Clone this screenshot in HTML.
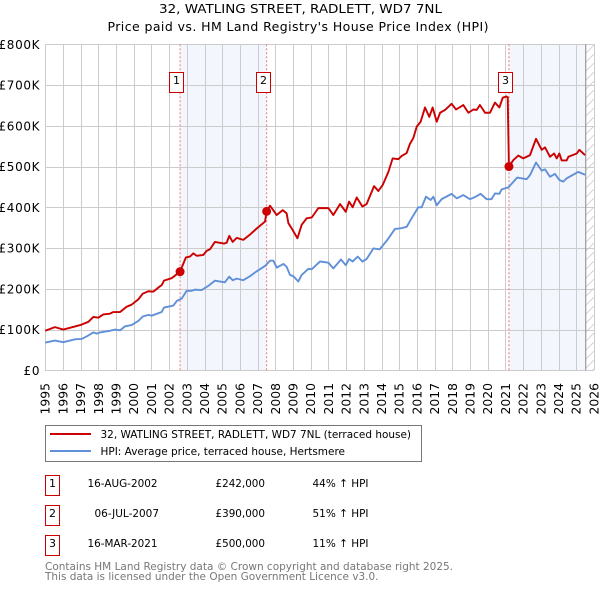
<!DOCTYPE html>
<html lang="en">
<head>
<meta charset="utf-8">
<title>32, Watling Street, Radlett - price paid vs HPI</title>
<style>
html,body{margin:0;padding:0;background:#fff;width:600px;height:590px;overflow:hidden}
svg{display:block;font-family:"DejaVu Sans","Liberation Sans",sans-serif}
text{fill:#000}
</style>
</head>
<body>
<svg id="chart" width="600" height="590" viewBox="0 0 600 590" xmlns="http://www.w3.org/2000/svg">
  <defs>
    <pattern id="hatch" width="9" height="9" patternUnits="userSpaceOnUse">
      <path d="M0 9 L9 0" stroke="#cccccc" stroke-width="0.8" fill="none"/>
    </pattern>
  </defs>
  <text x="159" y="13" font-size="12.5" textLength="283" lengthAdjust="spacingAndGlyphs">32, WATLING STREET, RADLETT, WD7 7NL</text>
  <text x="107.5" y="31" font-size="12.5" textLength="381" lengthAdjust="spacing">Price paid vs. HM Land Registry's House Price Index (HPI)</text>
  <g id="bands"></g>
  <g id="grid"></g>
  <g id="yticks"></g>
  <g id="xticks"></g>
  <g id="series"></g>
  <g id="sales"></g>

  <g>
    <rect x="45.5" y="425.5" width="376" height="36" fill="#fff" stroke="#777" stroke-width="1"/>
    <line x1="50" x2="91" y1="434" y2="434" stroke="#cc0000" stroke-width="2"/>
    <text x="100.5" y="438" font-size="11" textLength="310.5" lengthAdjust="spacingAndGlyphs">32, WATLING STREET, RADLETT, WD7 7NL (terraced house)</text>
    <line x1="50" x2="91" y1="451" y2="451" stroke="#6090d8" stroke-width="2"/>
    <text x="100.5" y="455" font-size="11" textLength="244.5" lengthAdjust="spacingAndGlyphs">HPI: Average price, terraced house, Hertsmere</text>
  </g>

  <g font-size="11">
    <g>
      <rect x="45.5" y="475.5" width="14" height="20" fill="#fff" stroke="#cc0000"/>
      <text x="52.5" y="487" text-anchor="middle">1</text>
      <text x="87.5" y="487" textLength="70" lengthAdjust="spacingAndGlyphs">16-AUG-2002</text>
      <text x="215.5" y="487" textLength="49.5" lengthAdjust="spacingAndGlyphs">£242,000</text>
      <text x="312.5" y="487" textLength="56" lengthAdjust="spacingAndGlyphs">44% ↑ HPI</text>
    </g>
    <g>
      <rect x="45.5" y="505.5" width="14" height="20" fill="#fff" stroke="#cc0000"/>
      <text x="52.5" y="517" text-anchor="middle">2</text>
      <text x="94.5" y="517" textLength="64.5" lengthAdjust="spacingAndGlyphs">06-JUL-2007</text>
      <text x="215.5" y="517" textLength="49.5" lengthAdjust="spacingAndGlyphs">£390,000</text>
      <text x="312.5" y="517" textLength="56" lengthAdjust="spacingAndGlyphs">51% ↑ HPI</text>
    </g>
    <g>
      <rect x="45.5" y="535.5" width="14" height="20" fill="#fff" stroke="#cc0000"/>
      <text x="52.5" y="547" text-anchor="middle">3</text>
      <text x="87.5" y="547" textLength="70" lengthAdjust="spacingAndGlyphs">16-MAR-2021</text>
      <text x="215.5" y="547" textLength="49.5" lengthAdjust="spacingAndGlyphs">£500,000</text>
      <text x="312.5" y="547" textLength="56" lengthAdjust="spacingAndGlyphs">11% ↑ HPI</text>
    </g>
  </g>
  <text x="45" y="570" font-size="11" textLength="408" lengthAdjust="spacingAndGlyphs" style="fill:#777">Contains HM Land Registry data © Crown copyright and database right 2025.</text>
  <text x="45" y="580" font-size="11" textLength="333.5" lengthAdjust="spacingAndGlyphs" style="fill:#777">This data is licensed under the Open Government Licence v3.0.</text>
</svg>
<script>
const yearTicks = [1995,1996,1997,1998,1999,2000,2001,2002,2003,2004,2005,2006,2007,2008,2009,2010,2011,2012,2013,2014,2015,2016,2017,2018,2019,2020,2021,2022,2023,2024,2025,2026];
const valueTicks = [0,100,200,300,400,500,600,700,800];
const valueTickLabels = ["£0","£100K","£200K","£300K","£400K","£500K","£600K","£700K","£800K"];

const priceDates = [1995.0,1995.55,1996.02,1996.98,1997.44,1997.72,1998.0,1998.28,1998.66,1998.85,1999.23,1999.6,1999.88,2000.26,2000.51,2000.83,2001.11,2001.39,2001.58,2001.71,2002.14,2002.62,2002.77,2002.95,2003.18,2003.37,2003.56,2003.93,2004.12,2004.31,2004.59,2005.1,2005.25,2005.4,2005.59,2005.82,2006.19,2006.57,2006.95,2007.42,2007.51,2007.7,2008.08,2008.42,2008.64,2008.74,2008.93,2009.25,2009.49,2009.77,2010.06,2010.43,2011.0,2011.28,2011.66,2011.98,2012.17,2012.37,2012.6,2012.92,2013.16,2013.58,2013.82,2014.07,2014.39,2014.63,2014.95,2015.14,2015.42,2015.61,2015.8,2015.99,2016.21,2016.46,2016.7,2016.89,2017.12,2017.31,2017.59,2017.96,2018.21,2018.62,2018.91,2019.19,2019.38,2019.56,2019.85,2020.13,2020.41,2020.66,2020.85,2021.07,2021.13,2021.2,2021.45,2021.73,2022.01,2022.39,2022.73,2023.05,2023.24,2023.52,2023.75,2023.9,2024.05,2024.18,2024.46,2024.56,2025.03,2025.18,2025.5];
const priceValues = [97,106,100,111,119,131,129,137,139,143,143,156,161,174,188,194,193,203,209,220,226,242,258,277,279,287,281,283,293,297,315,311,313,330,315,325,320,333,348,365,390,404,381,393,385,361,348,324,357,373,375,398,398,381,408,389,414,400,424,402,408,452,440,455,487,520,518,526,533,556,570,598,610,645,622,645,610,632,639,654,640,651,632,640,639,651,632,632,657,645,669,672,670,500,516,527,520,528,568,541,547,524,532,520,532,515,515,524,532,541,528];

const hpiDates = [1995.0,1995.55,1996.02,1996.68,1997.06,1997.38,1997.72,1997.91,1998.1,1998.66,1998.94,1999.23,1999.51,1999.88,2000.26,2000.51,2000.83,2001.01,2001.58,2001.71,2002.24,2002.43,2002.71,2002.99,2003.27,2003.46,2003.84,2004.21,2004.59,2005.15,2005.4,2005.59,2005.82,2006.19,2006.57,2006.95,2007.42,2007.7,2007.89,2008.08,2008.46,2008.64,2008.83,2009.02,2009.3,2009.49,2009.87,2010.06,2010.53,2011.0,2011.28,2011.71,2011.98,2012.17,2012.37,2012.66,2012.92,2013.16,2013.54,2013.9,2014.33,2014.76,2015.04,2015.42,2015.7,2016.08,2016.27,2016.51,2016.78,2016.93,2017.12,2017.4,2017.96,2018.25,2018.62,2019.0,2019.28,2019.6,2019.94,2020.22,2020.41,2020.66,2020.79,2021.17,2021.67,2022.2,2022.39,2022.73,2023.05,2023.24,2023.52,2023.8,2024.05,2024.27,2024.46,2025.12,2025.5];
const hpiValues = [68,73,69,76,77,84,93,90,93,97,100,98,108,111,121,132,136,134,143,154,159,170,176,195,195,198,197,207,220,216,230,221,225,221,231,243,256,269,269,252,261,254,234,231,218,234,249,248,267,264,250,272,258,273,267,279,267,273,299,297,320,347,348,352,373,400,400,426,418,426,405,420,433,422,430,420,425,433,420,420,434,433,444,449,473,469,479,510,490,493,475,482,467,463,471,487,480];

const saleLabels = ["1","2","3"];
const saleDates = [2002.62,2007.51,2021.2];
const saleValues = [242,390,500];
const dataEnd = 2025.54;

const NS = "http://www.w3.org/2000/svg";
const X0 = 45.2, YEAR_W = 17.7, Y0 = 370.3, K_H = 0.4075;
function xScale(year){ return X0 + (year - 1995) * YEAR_W; }
function yScale(k){ return Y0 - k * K_H; }
function mk(parentId, tag, attrs){
  const el = document.createElementNS(NS, tag);
  for (const k in attrs) el.setAttribute(k, attrs[k]);
  document.getElementById(parentId).appendChild(el);
  return el;
}
const top800 = yScale(800), bottom0 = yScale(0), xEnd = xScale(2026);

let band1 = mk("bands","rect",{x:xScale(saleDates[0]),y:top800,width:xScale(saleDates[1])-xScale(saleDates[0]),height:bottom0-top800,fill:"#f3f6fd"});


let band2 = mk("bands","rect",{x:xScale(saleDates[2]),y:top800,width:xScale(dataEnd)-xScale(saleDates[2]),height:bottom0-top800,fill:"#f3f6fd"});


let hatchArea = mk("bands","rect",{x:xScale(dataEnd),y:top800,width:xEnd-xScale(dataEnd),height:bottom0-top800,fill:"url(#hatch)"});



yearTicks.forEach(function(yr){
  const gx = Math.round(xScale(yr)) + 0.5;
  const gl = mk("grid","line",{x1:gx,x2:gx,y1:top800,y2:bottom0,stroke:"#cccccc","stroke-width":1});
  
  
  const t = mk("xticks","text",{transform:"translate("+(xScale(yr)+4.5)+",414.5) rotate(-90)","font-size":12,textLength:31.5,lengthAdjust:"spacingAndGlyphs"});
  
  
  t.textContent = yr;
});
valueTicks.forEach(function(v,i){
  const gy = Math.round(yScale(v)) + 0.5;
  const gl = mk("grid","line",{x1:X0,x2:xEnd,y1:gy,y2:gy,stroke:"#cccccc","stroke-width":1});
  
  
  const label = valueTickLabels[i];
  const t = mk("yticks","text",{x:label.length > 2 ? -1.5 : 23.5,y:yScale(v)+4.5,"font-size":12,textLength:label.length > 2 ? 41 : 16,lengthAdjust:"spacing"});
  
  
  t.textContent = label;
});
let endLine = mk("grid","line",{x1:xScale(dataEnd),x2:xScale(dataEnd),y1:top800,y2:bottom0,stroke:"#888888","stroke-width":1});



saleDates.forEach(function(d){
  const l = mk("grid","line",{x1:xScale(d),x2:xScale(d),y1:top800,y2:bottom0,stroke:"#f07878","stroke-width":1,"stroke-dasharray":"2 2"});
  
  
});

function linePath(xs, ys){
  return xs.map(function(d,i){ return (i ? "L" : "M") + xScale(d).toFixed(2) + " " + yScale(ys[i]).toFixed(2); }).join(" ");
}
let hpiLine = mk("series","path",{d:linePath(hpiDates,hpiValues),fill:"none",stroke:"#6090d8","stroke-width":1.9,"stroke-linejoin":"round"});


let priceLine = mk("series","path",{d:linePath(priceDates,priceValues),fill:"none",stroke:"#cc0000","stroke-width":1.9,"stroke-linejoin":"round"});



saleDates.forEach(function(d,i){
  const c = mk("sales","circle",{cx:xScale(d),cy:yScale(saleValues[i]),r:4.5,fill:"#cc0000"});
  
  
  const bx = mk("sales","rect",{x:Math.round(xScale(d))-10.5,y:72.5,width:14,height:20,fill:"#fff",stroke:"#cc0000","stroke-width":1});
  
  
  const t = mk("sales","text",{x:Math.round(xScale(d))-3.5,y:84,"font-size":11,"text-anchor":"middle"});
  
  
  t.textContent = saleLabels[i];
});
</script>
</body>
</html>
